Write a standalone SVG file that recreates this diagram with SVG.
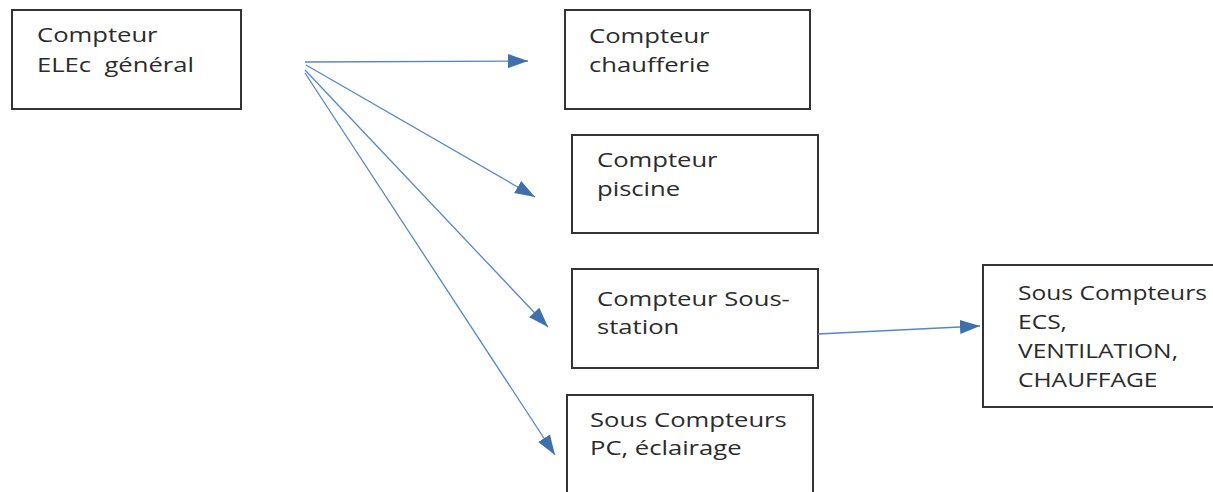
<svg xmlns="http://www.w3.org/2000/svg" width="1213" height="492" viewBox="0 0 1213 492">
<style>
.box{fill:#fff;stroke:#333;stroke-width:2}
.t{font-family:'Open Sans','Liberation Sans',sans-serif;font-size:20.5px;font-weight:500;fill:#2b2b2b;white-space:pre}
.c{fill:none;stroke:#5587c8;stroke-width:1.3;marker-end:url(#ah)}
</style>
<defs>
<marker id="ah" markerUnits="userSpaceOnUse" markerWidth="20" markerHeight="14" refX="20" refY="7" orient="auto" viewBox="0 0 20 14">
<path d="M0,0 L20,7 L0,14 z" fill="#3f70ae"/>
</marker>
</defs>
<rect width="1213" height="492" fill="#fff"/>
<g id="n1">
<rect class="box" x="12" y="10" width="229" height="99"/>
<g transform="translate(37,0) scale(1.25,1)"><text class="t" y="42">Compteur</text><text class="t" y="72">ELEc  général</text></g>
</g>
<g id="n2">
<rect class="box" x="565" y="10" width="245" height="99"/>
<g transform="translate(589,0) scale(1.25,1)"><text class="t" y="43">Compteur</text><text class="t" y="72">chaufferie</text></g>
</g>
<g id="n3">
<rect class="box" x="572" y="135" width="246" height="98"/>
<g transform="translate(597,0) scale(1.25,1)"><text class="t" y="167">Compteur</text><text class="t" y="196">piscine</text></g>
</g>
<g id="n4">
<rect class="box" x="572" y="269" width="246" height="99"/>
<g transform="translate(597,0) scale(1.25,1)"><text class="t" y="306">Compteur Sous-</text><text class="t" y="334">station</text></g>
</g>
<g id="n5">
<rect class="box" x="567" y="395" width="246" height="110"/>
<g transform="translate(590,0) scale(1.25,1)"><text class="t" y="427">Sous Compteurs</text><text class="t" y="455">PC, éclairage</text></g>
</g>
<g id="n6">
<rect class="box" x="983" y="265" width="250" height="142"/>
<g transform="translate(1018,0) scale(1.2,1)"><text class="t" y="300">Sous Compteurs</text><text class="t" y="329">ECS,</text><text class="t" y="358">VENTILATION,</text><text class="t" y="387">CHAUFFAGE</text></g>
</g>
<g id="connectors">
<line class="c" x1="305" y1="62" x2="528" y2="61"/>
<line class="c" x1="306" y1="65" x2="535" y2="197"/>
<line class="c" x1="305" y1="70" x2="548" y2="327"/>
<line class="c" x1="305" y1="73" x2="555" y2="455"/>
<line class="c" x1="818" y1="334" x2="980" y2="326"/>
</g>
</svg>
